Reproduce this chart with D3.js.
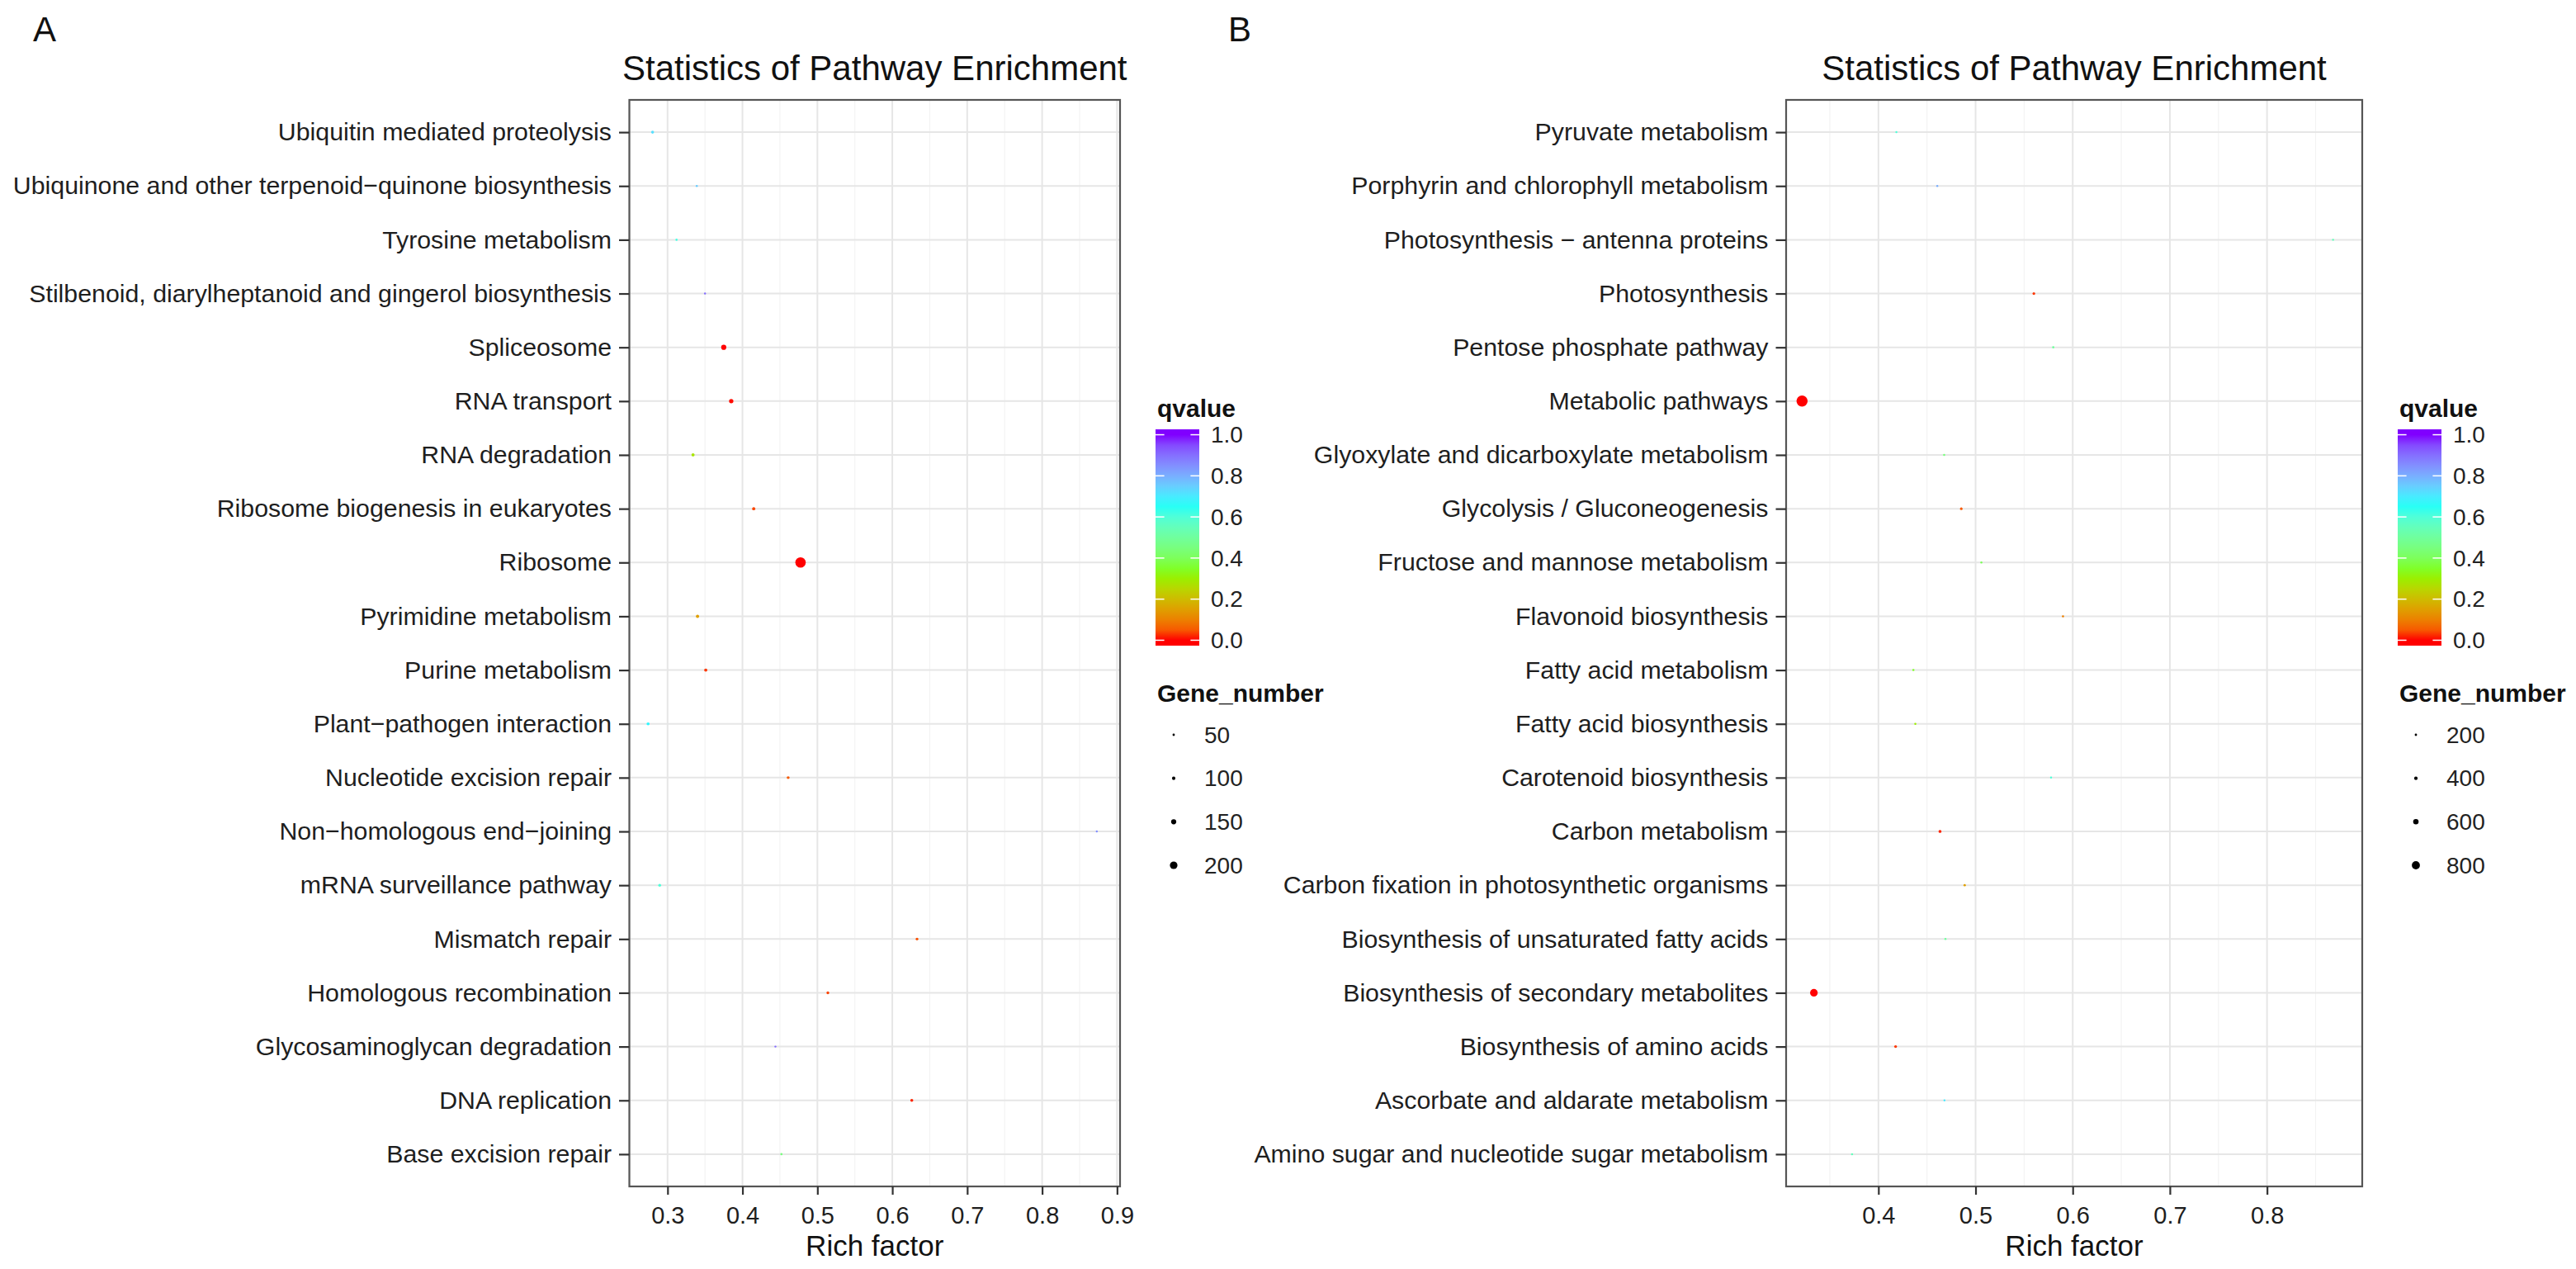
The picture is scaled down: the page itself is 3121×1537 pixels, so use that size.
<!DOCTYPE html>
<html>
<head>
<meta charset="utf-8">
<script src="https://cdn.jsdelivr.net/npm/d3@7"></script>
<style>
body { margin: 0; background: #fff; }
svg { font-family: "Liberation Sans", Arial, sans-serif; }
</style>
</head>
<body>
<svg id="chart" width="3121" height="1537"></svg>
<script>
// ---- panel A data (top to bottom) ----
const pathwaysA = [
  "Ubiquitin mediated proteolysis",
  "Ubiquinone and other terpenoid\u2212quinone biosynthesis",
  "Tyrosine metabolism",
  "Stilbenoid, diarylheptanoid and gingerol biosynthesis",
  "Spliceosome",
  "RNA transport",
  "RNA degradation",
  "Ribosome biogenesis in eukaryotes",
  "Ribosome",
  "Pyrimidine metabolism",
  "Purine metabolism",
  "Plant\u2212pathogen interaction",
  "Nucleotide excision repair",
  "Non\u2212homologous end\u2212joining",
  "mRNA surveillance pathway",
  "Mismatch repair",
  "Homologous recombination",
  "Glycosaminoglycan degradation",
  "DNA replication",
  "Base excision repair"
];
const richA = [0.280, 0.339, 0.312, 0.350, 0.375, 0.385, 0.334, 0.415, 0.4775, 0.340,
               0.351, 0.274, 0.461, 0.873, 0.2895, 0.633, 0.514, 0.444, 0.626, 0.452];
const qvalueA = [0.72, 0.75, 0.62, 0.90, 0.0001, 0.002, 0.28, 0.03, 0.0, 0.15,
                 0.02, 0.68, 0.05, 0.85, 0.60, 0.04, 0.03, 0.90, 0.01, 0.45];
const geneA = [85, 25, 30, 10, 150, 130, 90, 90, 245, 95,
               90, 85, 80, 15, 80, 70, 75, 10, 85, 35];
const xTicksA = [0.3, 0.4, 0.5, 0.6, 0.7, 0.8, 0.9];
const sizeBreaksA = [50, 100, 150, 200];

// ---- panel B data (top to bottom) ----
const pathwaysB = [
  "Pyruvate metabolism",
  "Porphyrin and chlorophyll metabolism",
  "Photosynthesis \u2212 antenna proteins",
  "Photosynthesis",
  "Pentose phosphate pathway",
  "Metabolic pathways",
  "Glyoxylate and dicarboxylate metabolism",
  "Glycolysis / Gluconeogenesis",
  "Fructose and mannose metabolism",
  "Flavonoid biosynthesis",
  "Fatty acid metabolism",
  "Fatty acid biosynthesis",
  "Carotenoid biosynthesis",
  "Carbon metabolism",
  "Carbon fixation in photosynthetic organisms",
  "Biosynthesis of unsaturated fatty acids",
  "Biosynthesis of secondary metabolites",
  "Biosynthesis of amino acids",
  "Ascorbate and aldarate metabolism",
  "Amino sugar and nucleotide sugar metabolism"
];
const richB = [0.4185, 0.4606, 0.868, 0.560, 0.580, 0.3214, 0.4677, 0.4853, 0.506, 0.590,
               0.436, 0.438, 0.5777, 0.4634, 0.4888, 0.469, 0.3336, 0.4177, 0.468, 0.3729];
const qvalueB = [0.60, 0.80, 0.55, 0.02, 0.50, 0.0, 0.45, 0.05, 0.40, 0.10,
                 0.35, 0.30, 0.60, 0.01, 0.15, 0.50, 0.0, 0.02, 0.70, 0.55];
const geneB = [60, 40, 40, 272, 150, 980, 150, 250, 100, 120,
               120, 100, 90, 333, 180, 80, 770, 300, 40, 120];
const xTicksB = [0.4, 0.5, 0.6, 0.7, 0.8];
const sizeBreaksB = [200, 400, 600, 800];

const qTicks = [0, 0.2, 0.4, 0.6, 0.8, 1.0];
const rainbow4 = ["#FF0000", "#80FF00", "#00FFFF", "#8000FF"];

const svg = d3.select("#chart");
const color = d3.scaleLinear()
    .domain([0, 1 / 3, 2 / 3, 1])
    .range(rainbow4)
    .interpolate(d3.interpolateLab);

drawPanel({
    id: "A", letterX: 40,
    left: 762.5, right: 1357,
    xDomain: [0.249, 0.904], xTicks: xTicksA,
    pathways: pathwaysA, rich: richA, qvalue: qvalueA, gene: geneA,
    sizeScale: d3.scalePow().exponent(2).domain([0, 200]).range([1.2, 4.6]),
    sizeBreaks: sizeBreaksA
});
drawPanel({
    id: "B", letterX: 1488,
    left: 2164, right: 2862,
    xDomain: [0.305, 0.898], xTicks: xTicksB,
    pathways: pathwaysB, rich: richB, qvalue: qvalueB, gene: geneB,
    sizeScale: d3.scalePow().exponent(2).domain([0, 800]).range([1.2, 4.9]),
    sizeBreaks: sizeBreaksB
});

function drawPanel(o) {
    const top = 121, bottom = 1437;
    const g = svg.append("g").attr("class", "panel-" + o.id);

    const x = d3.scaleLinear().domain(o.xDomain).range([o.left, o.right]);
    const y = d3.scalePoint().domain(o.pathways).range([top, bottom]).padding(0.6);

    // minor grid halfway between ticks
    const step = o.xTicks[1] - o.xTicks[0];
    const minor = [o.xTicks[0] - step / 2].concat(o.xTicks.map(t => t + step / 2))
        .filter(v => v > o.xDomain[0] && v < o.xDomain[1]);

    g.selectAll(".minor").data(minor).enter().append("line")
        .attr("x1", d => x(d)).attr("x2", d => x(d))
        .attr("y1", top).attr("y2", bottom)
        .style("stroke", "#f3f3f3").style("stroke-width", 1.2);

    g.selectAll(".vmajor").data(o.xTicks).enter().append("line")
        .attr("x1", d => x(d)).attr("x2", d => x(d))
        .attr("y1", top).attr("y2", bottom)
        .style("stroke", "#e6e6e6").style("stroke-width", 2);

    g.selectAll(".hmajor").data(o.pathways).enter().append("line")
        .attr("x1", o.left).attr("x2", o.right)
        .attr("y1", d => y(d)).attr("y2", d => y(d))
        .style("stroke", "#e6e6e6").style("stroke-width", 2);

    const pts = o.pathways.map((p, i) => ({ p: p, r: o.rich[i], q: o.qvalue[i], n: o.gene[i] }));
    g.selectAll(".pt").data(pts).enter().append("circle")
        .attr("cx", d => x(d.r))
        .attr("cy", d => y(d.p))
        .attr("r", d => o.sizeScale(d.n))
        .style("fill", d => color(d.q));

    g.append("rect")
        .attr("x", o.left).attr("y", top)
        .attr("width", o.right - o.left).attr("height", bottom - top)
        .style("fill", "none").style("stroke", "#555").style("stroke-width", 2.2);

    // axes
    const yAxis = g.append("g").attr("transform", `translate(${o.left},0)`)
        .call(d3.axisLeft(y).tickSize(12.5).tickPadding(9));
    const xAxis = g.append("g").attr("transform", `translate(0,${bottom})`)
        .call(d3.axisBottom(x).tickValues(o.xTicks).tickFormat(d3.format(".1f")).tickSize(10).tickPadding(14));
    [yAxis, xAxis].forEach(a => {
        a.select(".domain").remove();
        a.selectAll(".tick line").style("stroke", "#333").style("stroke-width", 2.2);
        a.selectAll(".tick text").style("fill", "#1e1e1e")
            .style("font-family", "'Liberation Sans', Arial, sans-serif");
    });
    yAxis.selectAll(".tick text").style("font-size", "30.3px");
    xAxis.selectAll(".tick text").style("font-size", "29px");

    const cx = (o.left + o.right) / 2;
    g.append("text").attr("x", cx).attr("y", 97)
        .attr("text-anchor", "middle").style("font-size", "42px").style("fill", "#111")
        .text("Statistics of Pathway Enrichment");
    g.append("text").attr("x", cx).attr("y", 1521)
        .attr("text-anchor", "middle").style("font-size", "35px").style("fill", "#111")
        .text("Rich factor");
    g.append("text").attr("x", o.letterX).attr("y", 50)
        .style("font-size", "42px").style("fill", "#111")
        .text(o.id);

    // ---- legends ----
    const gx = o.right + 43;
    const leg = g.append("g").attr("class", "legend");

    leg.append("text").attr("x", gx + 2).attr("y", 505)
        .style("font-size", "30px").style("font-weight", "bold").style("fill", "#111")
        .text("qvalue");

    const cbTop = 520, cbH = 262, cbW = 53, half = cbH / 40;
    const cbY = d3.scaleLinear().domain([0, 1]).range([cbTop + cbH - half, cbTop + half]);
    const gradId = "grad" + o.id;
    const grad = svg.append("defs").append("linearGradient")
        .attr("id", gradId).attr("x1", 0).attr("x2", 0).attr("y1", 1).attr("y2", 0);
    d3.range(0, 1.0001, 0.05).forEach(v => {
        grad.append("stop")
            .attr("offset", (cbTop + cbH - cbY(v)) / cbH)
            .attr("stop-color", color(v));
    });
    grad.insert("stop", ":first-child").attr("offset", 0).attr("stop-color", color(0));
    grad.append("stop").attr("offset", 1).attr("stop-color", color(1));

    leg.append("rect").attr("x", gx).attr("y", cbTop)
        .attr("width", cbW).attr("height", cbH)
        .style("fill", `url(#${gradId})`);

    qTicks.forEach(t => {
        [[gx, gx + cbW / 5], [gx + cbW - cbW / 5, gx + cbW]].forEach(s => {
            leg.append("line").attr("x1", s[0]).attr("x2", s[1])
                .attr("y1", cbY(t)).attr("y2", cbY(t))
                .style("stroke", "#fff").style("stroke-width", 1.5);
        });
    });
    leg.selectAll(".qlab").data(qTicks).enter().append("text")
        .attr("x", gx + 67).attr("y", d => cbY(d)).attr("dy", "0.35em")
        .style("font-size", "28px").style("fill", "#222")
        .text(d => d3.format(".1f")(d));

    leg.append("text").attr("x", gx + 2).attr("y", 850)
        .style("font-size", "30px").style("font-weight", "bold").style("fill", "#111")
        .text("Gene_number");

    const sizeY = d3.scalePoint().domain(o.sizeBreaks).range([890, 1048]);
    leg.selectAll(".sdot").data(o.sizeBreaks).enter().append("circle")
        .attr("cx", gx + 22).attr("cy", d => sizeY(d))
        .attr("r", d => o.sizeScale(d))
        .style("fill", "#000");
    leg.selectAll(".slab").data(o.sizeBreaks).enter().append("text")
        .attr("x", gx + 59).attr("y", d => sizeY(d)).attr("dy", "0.35em")
        .style("font-size", "28px").style("fill", "#222")
        .text(d => d);
}
</script>
</body>
</html>
